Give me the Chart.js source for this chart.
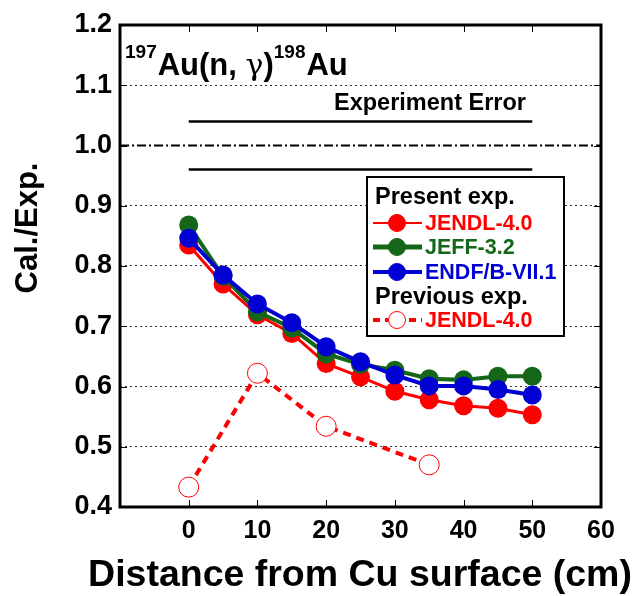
<!DOCTYPE html>
<html>
<head>
<meta charset="utf-8">
<script src="https://cdn.jsdelivr.net/npm/chart.js@4.4.0/dist/chart.umd.min.js"></script>
<style>
  body { margin: 0; background: #fff; }
  #wrap { width: 635px; height: 596px; }
</style>
</head>
<body>
<div id="wrap"><canvas id="myChart" width="635" height="596"></canvas></div>
<script>
// distances (cm) and Cal./Exp. values
const distance = [0, 5, 10, 15, 20, 25, 30, 35, 40, 45, 50];
const jendl = [0.835, 0.770, 0.719, 0.688, 0.638, 0.616, 0.592, 0.578, 0.568, 0.564, 0.553];
const jeff = [0.868, 0.783, 0.724, 0.697, 0.654, 0.637, 0.627, 0.613, 0.611, 0.617, 0.617];
const endf = [0.846, 0.785, 0.737, 0.706, 0.666, 0.641, 0.619, 0.601, 0.601, 0.595, 0.586];
const prevDistance = [0, 10, 20, 35];
const prevJendl = [0.433, 0.622, 0.534, 0.470];

// experiment error band and unity line
const errX = [0, 50];
const errHigh = [1.04, 1.04];
const errLow = [0.96, 0.96];
const unityX = [-10, 60];
const unityY = [1.0, 1.0];

const xTicks = [-10, 0, 10, 20, 30, 40, 50, 60];
const yTicks = [0.4, 0.5, 0.6, 0.7, 0.8, 0.9, 1.0, 1.1, 1.2];

const FONT = '"Liberation Sans", Arial, sans-serif';
const RED = '#ff0000';
const GREEN = '#146619';
const BLUE = '#0000d2';

function pts(xs, ys) {
    return xs.map((x, i) => ({x: x, y: ys[i]}));
}

const decor = {
    id: 'decor',
    afterDraw(chart) {
        const ctx = chart.ctx;
        const a = chart.chartArea;
        const xs = chart.scales.x;
        const ys = chart.scales.y;
        ctx.save();

        // inward ticks
        ctx.strokeStyle = '#000';
        ctx.lineWidth = 1;
        ctx.beginPath();
        xTicks.forEach(v => {
            const px = Math.round(xs.getPixelForValue(v)) + 0.5;
            ctx.moveTo(px, a.bottom); ctx.lineTo(px, a.bottom - 7);
            ctx.moveTo(px, a.top); ctx.lineTo(px, a.top + 7);
        });
        yTicks.forEach(v => {
            const py = Math.round(ys.getPixelForValue(v)) + 0.5;
            ctx.moveTo(a.left, py); ctx.lineTo(a.left + 7, py);
            ctx.moveTo(a.right, py); ctx.lineTo(a.right - 7, py);
        });
        ctx.stroke();

        // frame
        ctx.lineWidth = 3;
        ctx.strokeRect(a.left, a.top, a.right - a.left, a.bottom - a.top);

        // axis titles
        ctx.fillStyle = '#000';
        ctx.font = 'bold 37.5px ' + FONT;
        ctx.textAlign = 'center';
        ctx.textBaseline = 'alphabetic';
        ctx.fillText('Distance from Cu surface (cm)', 360, 586);
        ctx.save();
        ctx.translate(37, 228);
        ctx.rotate(-Math.PI / 2);
        ctx.font = 'bold 31px ' + FONT;
        ctx.fillText('Cal./Exp.', 0, 0);
        ctx.restore();

        // reaction label
        ctx.textAlign = 'left';
        let x = 125;
        const parts = [
            ['197', 'bold 19px ' + FONT, 58],
            ['Au(n, ', 'bold 31px ' + FONT, 75],
            ['\u03b3', '30px "DejaVu Serif", serif', 75],
            [')', 'bold 31px ' + FONT, 75],
            ['198', 'bold 19px ' + FONT, 58],
            ['Au', 'bold 31px ' + FONT, 75]
        ];
        parts.forEach(p => {
            ctx.font = p[1];
            ctx.fillText(p[0], x, p[2]);
            x += ctx.measureText(p[0]).width + (p[0] === '197' || p[0] === '198' ? 1 : 0);
        });

        ctx.font = 'bold 23.5px ' + FONT;
        ctx.textAlign = 'center';
        ctx.fillText('Experiment Error', 430, 110);

        // legend box
        const lx = 367, ly = 177, lw = 197, lh = 159;
        ctx.fillStyle = '#fff';
        ctx.fillRect(lx, ly, lw, lh);
        ctx.lineWidth = 2;
        ctx.strokeStyle = '#000';
        ctx.strokeRect(lx, ly, lw, lh);

        ctx.textAlign = 'left';
        ctx.fillStyle = '#000';
        ctx.font = 'bold 23.5px ' + FONT;
        ctx.fillText('Present exp.', 375, 204);
        ctx.fillText('Previous exp.', 375, 304);

        const rows = [
            {label: 'JENDL-4.0', color: RED, y: 223, lw: 2, fill: RED, dash: []},
            {label: 'JEFF-3.2', color: GREEN, y: 247, lw: 5, fill: GREEN, dash: []},
            {label: 'ENDF/B-VII.1', color: BLUE, y: 272, lw: 4, fill: BLUE, dash: []},
            {label: 'JENDL-4.0', color: RED, y: 320, lw: 4, fill: '#fff', dash: [7, 5]}
        ];
        rows.forEach(r => {
            ctx.strokeStyle = r.color;
            ctx.lineWidth = r.lw;
            ctx.setLineDash(r.dash);
            ctx.beginPath();
            ctx.moveTo(373, r.y); ctx.lineTo(422, r.y);
            ctx.stroke();
            ctx.setLineDash([]);
            ctx.beginPath();
            ctx.arc(397, r.y, 8.5, 0, Math.PI * 2);
            ctx.fillStyle = r.fill;
            ctx.fill();
            ctx.lineWidth = 1;
            ctx.strokeStyle = r.color;
            ctx.stroke();
            ctx.fillStyle = r.color;
            ctx.font = 'bold 21.5px ' + FONT;
            ctx.textBaseline = 'middle';
            ctx.fillText(r.label, 425, r.y + 1);
            ctx.textBaseline = 'alphabetic';
        });
        ctx.restore();
    }
};

const ctx = document.getElementById('myChart').getContext('2d');
window.myChart = new Chart(ctx, {
    type: 'line',
    data: {
        datasets: [
            {
                label: 'ENDF/B-VII.1',
                data: pts(distance, endf),
                borderColor: BLUE, backgroundColor: BLUE,
                borderWidth: 4, pointRadius: 9.5, pointBorderWidth: 0,
                order: 1
            },
            {
                label: 'JEFF-3.2',
                data: pts(distance, jeff),
                borderColor: GREEN, backgroundColor: GREEN,
                borderWidth: 4, pointRadius: 9.5, pointBorderWidth: 0,
                order: 2
            },
            {
                label: 'JENDL-4.0',
                data: pts(distance, jendl),
                borderColor: RED, backgroundColor: RED,
                borderWidth: 3, pointRadius: 9.5, pointBorderWidth: 0,
                order: 3
            },
            {
                label: 'JENDL-4.0 (previous)',
                data: pts(prevDistance, prevJendl),
                borderColor: RED, backgroundColor: '#fff',
                borderWidth: 4, borderDash: [8, 6],
                pointRadius: 10, pointBorderWidth: 1,
                order: 4
            },
            {
                label: 'err high',
                data: pts(errX, errHigh),
                borderColor: '#000', borderWidth: 2.5, pointRadius: 0,
                order: 5
            },
            {
                label: 'err low',
                data: pts(errX, errLow),
                borderColor: '#000', borderWidth: 2.5, pointRadius: 0,
                order: 5
            },
            {
                label: 'unity',
                data: pts(unityX, unityY),
                borderColor: '#000', borderWidth: 2, borderDash: [9, 3, 2, 3],
                pointRadius: 0,
                order: 6
            }
        ]
    },
    options: {
        responsive: false,
        animation: false,
        layout: {padding: {top: 25, right: 34, left: 0, bottom: 0}},
        plugins: {legend: {display: false}, tooltip: {enabled: false}},
        scales: {
            x: {
                type: 'linear',
                min: -10, max: 60,
                afterFit: s => { s.height = 89; },
                afterBuildTicks: s => { s.ticks = xTicks.map(v => ({value: v})); },
                grid: {display: false, drawTicks: false},
                border: {display: false},
                ticks: {
                    padding: 9,
                    color: '#000',
                    font: {family: FONT, size: 25, weight: 'bold'},
                    callback: v => (v < 0 ? '' : v)
                }
            },
            y: {
                type: 'linear',
                min: 0.4, max: 1.2,
                afterFit: s => { s.width = 120; },
                afterBuildTicks: s => { s.ticks = yTicks.map(v => ({value: v})); },
                grid: {
                    drawTicks: false,
                    color: c => {
                        const v = Math.round(c.tick.value * 10);
                        return (v === 4 || v === 12 || v === 10) ? 'rgba(0,0,0,0)' : '#333';
                    },
                    lineWidth: 1
                },
                border: {display: false, dash: [2, 3]},
                ticks: {
                    padding: 8,
                    color: '#000',
                    font: {family: FONT, size: 27, weight: 'bold'},
                    callback: v => v.toFixed(1)
                }
            }
        }
    },
    plugins: [decor]
});
</script>
</body>
</html>
